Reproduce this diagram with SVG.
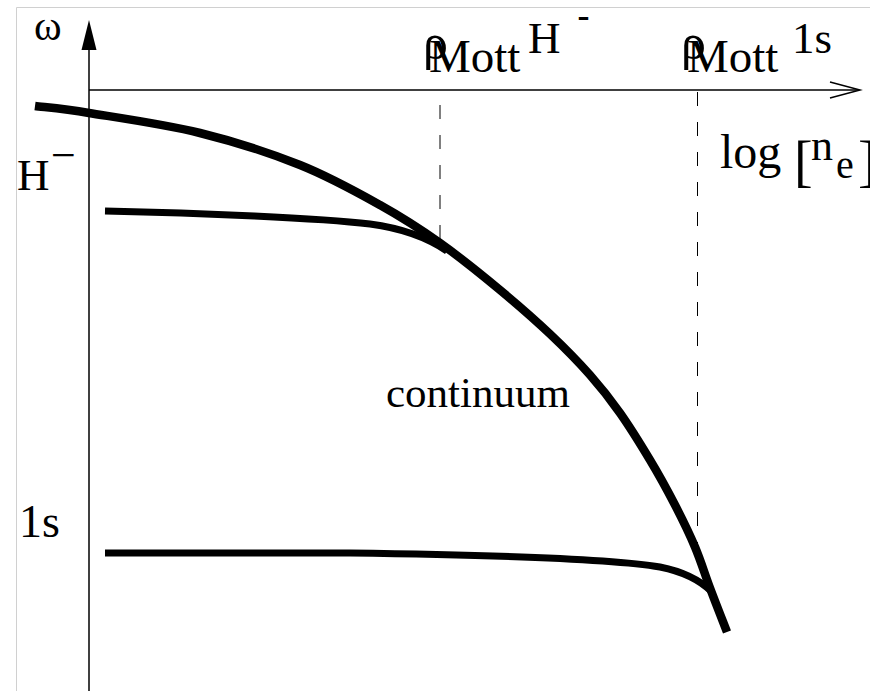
<svg xmlns="http://www.w3.org/2000/svg" width="870" height="691" viewBox="0 0 870 691">
<style>
.t{font-family:"Liberation Serif","Times New Roman",serif;fill:#000}
.curve{fill:none;stroke:#000;stroke-linecap:butt;stroke-linejoin:round}
.dash{stroke:#000;stroke-width:1;stroke-dasharray:14 16;fill:none}
.ax{stroke:#000;stroke-width:1.5;fill:none}
</style>
<rect width="870" height="691" fill="#fff"/>
<path d="M16.5,691 V7.5 H870" fill="none" stroke="#d0d0d0" stroke-width="1"/>
<g id="axes">
<line class="ax" x1="89" y1="45" x2="89" y2="691"/>
<polygon points="89,20 81.5,50 96.5,50" fill="#000"/>
<line class="ax" x1="89" y1="90" x2="859" y2="90"/>
<polyline class="ax" points="830,82 860,90 830,98"/>
</g>
<g id="connectors">
<line class="dash" x1="440" y1="105" x2="440" y2="245" stroke="#555"/>
<line class="dash" x1="697.5" y1="92" x2="697.5" y2="556"/>
</g>
<g id="continuum-edge">
<path class="curve" stroke-width="8.5" d="M35,106 C44,107.2 61.5,108.5 89,113 C116.5,117.5 164.8,124.3 200,133 C235.2,141.7 270,153 300,165 C330,177 356.7,192 380,205 C403.3,218 420,228.8 440,243 C460,257.2 481.7,274.8 500,290 C518.3,305.2 535,319.8 550,334 C565,348.2 578.3,361.8 590,375 C601.7,388.2 610,398.8 620,413 C630,427.2 640.8,444.7 650,460 C659.2,475.3 667.5,490.5 675,505 C682.5,519.5 689.2,533.2 695,547 C700.8,560.8 704.7,573.8 710,588 C715.3,602.2 724.2,624.7 727,632"/>
</g>
<g id="Hminus-level">
<path class="curve" stroke-width="7" d="M105,211 C200,213 320,218 370,224 C400,228 425,236 447,251"/>
</g>
<g id="1s-level">
<path class="curve" stroke-width="7" d="M105,553 L350,553 C500,555 620,560 660,567 C685,572 700,580 712,592"/>
</g>
<g id="labels">
<text class="t" x="34" y="40" font-size="42">ω</text>
<text class="t" x="17" y="190" font-size="45">H</text>
<text class="t" x="51" y="170" font-size="44">−</text>
<text class="t" x="19" y="537" font-size="46">1s</text>
<text class="t" x="386" y="407" font-size="43">continuum</text>
<text class="t" x="423" y="59" font-size="50">ρ<tspan dx="-19" dy="13" font-size="47">Mott</tspan></text>
<text class="t" x="528" y="53" font-size="45">H<tspan dx="17" dy="-26" font-size="36" font-weight="bold">-</tspan></text>
<text class="t" x="681" y="59" font-size="50">ρ<tspan dx="-19" dy="13" font-size="47">Mott</tspan></text>
<text class="t" x="792" y="53" font-size="45">1s</text>
<text class="t" x="720" y="168" font-size="48">log</text>
<text class="t" x="794" y="180" font-size="56">[</text>
<text class="t" x="811" y="160" font-size="44">n</text>
<text class="t" x="836" y="178" font-size="40">e</text>
<text class="t" x="858" y="180" font-size="56">]</text>
</g>
</svg>
